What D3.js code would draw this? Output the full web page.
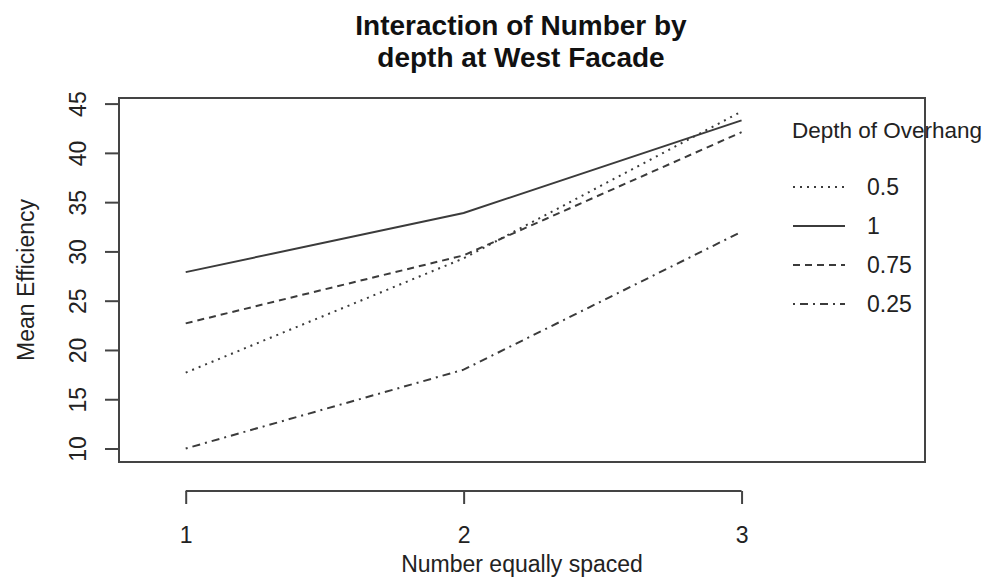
<!DOCTYPE html>
<html>
<head>
<meta charset="utf-8">
<script src="https://cdn.jsdelivr.net/npm/d3@7"></script>
<style>
  body { margin: 0; background: #fff; }
  svg { display: block; font-family: "Liberation Sans", Arial, sans-serif; }
  .tick text { fill: #222; }
</style>
</head>
<body>
<svg id="chart" width="982" height="577"></svg>
<script>
// x categories and tick labels
var numberSpaced = [1, 2, 3];
var yTicks = [10, 15, 20, 25, 30, 35, 40, 45];

// legend order (sorted by value at the last level, as interaction.plot does)
var depthLevels = ['0.5', '1', '0.75', '0.25'];

// mean efficiency per depth, at Number = 1, 2, 3
var eff05 = [17.7, 29.3, 44.2];
var eff1 = [27.9, 33.9, 43.3];
var eff075 = [22.7, 29.6, 42.1];
var eff025 = [10.0, 18.0, 32.0];

var seriesValues = [eff05, eff1, eff075, eff025];
var dashFor = {'0.5': '2,5', '1': null, '0.75': '7,5', '0.25': '2,5,8,5'};

var svg = d3.select('#chart');
var box = {left: 119, right: 925, top: 98, bottom: 462};
var ink = '#3b3b3b';

var all = d3.merge(seriesValues);
var yMin = d3.min(all), yMax = d3.max(all), pad = (yMax - yMin) * 0.04;

// the x range is widened on the right to make room for the legend
var x = d3.scaleLinear().domain([0.76, 3.66]).range([box.left, box.right]);
var y = d3.scaleLinear().domain([yMin - pad, yMax + pad]).range([box.bottom, box.top]);

svg.append('text')
  .attr('x', 521)
  .attr('text-anchor', 'middle')
  .attr('font-size', 28)
  .attr('font-weight', 'bold')
  .attr('fill', '#111')
  .selectAll('tspan')
  .data(['Interaction of Number by', 'depth at West Facade'])
  .join('tspan')
  .attr('x', 521)
  .attr('y', function(d, i) { return 35 + i * 32; })
  .text(function(d) { return d; });

// lines
var line = d3.line()
  .x(function(d, i) { return x(numberSpaced[i]); })
  .y(function(d) { return y(d); });

svg.append('g')
  .selectAll('path')
  .data(seriesValues)
  .join('path')
  .attr('d', line)
  .attr('fill', 'none')
  .attr('stroke', ink)
  .attr('stroke-width', 2)
  .attr('stroke-dasharray', function(d, i) { return dashFor[depthLevels[i]]; });

// plot box
svg.append('rect')
  .attr('x', box.left)
  .attr('y', box.top)
  .attr('width', box.right - box.left)
  .attr('height', box.bottom - box.top)
  .attr('fill', 'none')
  .attr('stroke', '#444')
  .attr('stroke-width', 2);

// y axis
var yAxis = svg.append('g')
  .attr('transform', 'translate(' + box.left + ',0)')
  .call(d3.axisLeft(y).tickValues(yTicks).tickSize(14).tickFormat(d3.format('d')));
yAxis.select('.domain').remove();
yAxis.selectAll('.tick line').attr('stroke', '#444').attr('stroke-width', 2);
yAxis.selectAll('.tick text')
  .attr('font-size', 23)
  .attr('text-anchor', 'middle')
  .attr('dy', null)
  .attr('x', null)
  .attr('transform', 'translate(-33,0) rotate(-90)');

// x axis, drawn one line below the box
var xAxisY = 491;
var xAxis = svg.append('g')
  .attr('transform', 'translate(0,' + xAxisY + ')')
  .call(d3.axisBottom(x).tickValues(numberSpaced).tickSize(13).tickPadding(0).tickFormat(d3.format('d')));
xAxis.select('.domain').remove();
xAxis.append('line')
  .attr('x1', x(numberSpaced[0]))
  .attr('x2', x(numberSpaced[numberSpaced.length - 1]))
  .attr('stroke', '#444')
  .attr('stroke-width', 2);
xAxis.selectAll('.tick line').attr('stroke', '#444').attr('stroke-width', 2);
xAxis.selectAll('.tick text')
  .attr('font-size', 23)
  .attr('dy', null)
  .attr('y', 52);

svg.append('text')
  .attr('x', (box.left + box.right) / 2)
  .attr('y', 572)
  .attr('text-anchor', 'middle')
  .attr('font-size', 23)
  .attr('fill', '#222')
  .text('Number equally spaced');

svg.append('text')
  .attr('transform', 'translate(34,' + (box.top + box.bottom) / 2 + ') rotate(-90)')
  .attr('text-anchor', 'middle')
  .attr('font-size', 23)
  .attr('fill', '#222')
  .text('Mean Efficiency');

// legend
var legend = svg.append('g').attr('transform', 'translate(792,0)');
legend.append('text')
  .attr('y', 138)
  .attr('font-size', 22.5)
  .attr('fill', '#222')
  .text('Depth of Overhang');

var item = legend.selectAll('.item')
  .data(depthLevels)
  .join('g')
  .attr('class', 'item')
  .attr('transform', function(d, i) { return 'translate(0,' + (187 + i * 39) + ')'; });
item.append('line')
  .attr('x1', 1)
  .attr('x2', 53)
  .attr('stroke', ink)
  .attr('stroke-width', 2)
  .attr('stroke-dasharray', function(d) { return dashFor[d]; });
item.append('text')
  .attr('x', 75)
  .attr('y', 8)
  .attr('font-size', 23)
  .attr('fill', '#222')
  .text(function(d) { return d; });
</script>
</body>
</html>
